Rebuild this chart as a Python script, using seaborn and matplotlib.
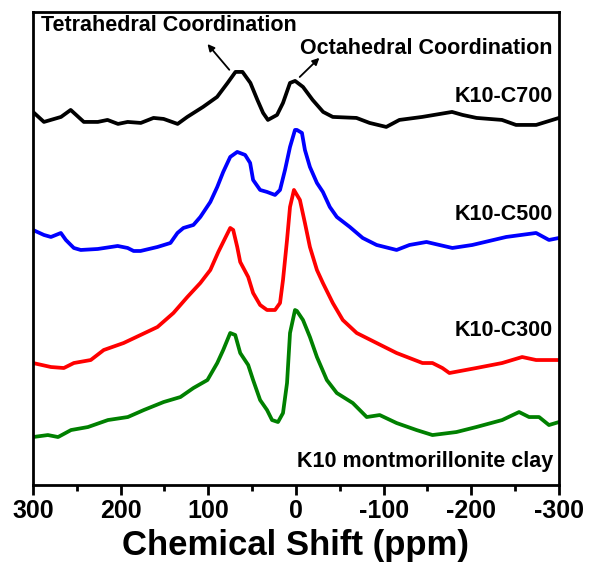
import numpy as np
import pandas as pd
import matplotlib
matplotlib.use("Agg")
import matplotlib.pyplot as plt
import seaborn as sns
from matplotlib.ticker import MultipleLocator

# ---- data (intensity in arbitrary units) ----
ppm_c700 = [300, 287.5, 268, 257, 242, 226, 215, 203, 192, 177, 162.5, 151, 135, 124, 106, 90, 78,
            69, 61, 52, 44, 37.5, 32, 21.6, 14.8, 6.8, 1, -8, -19, -31, -42, -69, -84, -103, -118,
            -144, -178, -190, -206, -235, -251, -274, -300]
int_c700 = [373, 363, 368, 375, 363, 363, 365, 361, 363, 362, 367, 366, 361, 368, 378, 388, 402,
            413, 413, 402, 385, 372, 365, 370, 382, 402, 404, 398, 385, 373, 368, 367, 362, 358, 365,
            368, 373, 370, 367, 365, 360, 360, 367]

ppm_c500 = [300, 287.5, 279.5, 268.2, 262.5, 253.4, 245.5, 226.1, 203.4, 192, 185.2, 177.3, 158,
            143.2, 135.2, 128.4, 117, 109.1, 97.7, 89.8, 83, 75, 67, 58, 52.3, 48.9, 40.9, 33, 23.9,
            18.2, 12.5, 6.8, 1.1, -1.1, -6.8, -10.2, -15.9, -23.9, -30.7, -38.6, -46.6, -61.4, -76.1,
            -92, -114.8, -129.5, -148.9, -163.6, -178.4, -201.1, -239.8, -273.9, -288.6, -300]
int_c500 = [255, 250, 248, 252, 245, 237, 235, 236, 239, 237, 234, 234, 238, 242, 252, 257, 260,
            268, 283, 298, 313, 328, 333, 330, 322, 305, 295, 293, 290, 295, 315, 338, 355, 355, 352,
            335, 318, 302, 293, 278, 268, 258, 247, 240, 235, 240, 243, 240, 237, 240, 248, 252, 245, 247]

ppm_c300 = [300, 279.5, 264.8, 253.4, 234.1, 219.3, 196.6, 177.3, 158, 139.8, 123.9, 109.1, 97.7,
            88.6, 80.7, 75, 71.6, 67, 63.6, 54.5, 48.9, 40.9, 33, 23.9, 18.2, 14.8, 10.2, 6.8, 2.3,
            -4.5, -10.2, -15.9, -23.9, -30.7, -42, -53.4, -69.3, -92, -114.8, -144.3, -155.7, -167,
            -175, -205.7, -235.2, -258, -273.9, -300]
int_c300 = [122, 118, 117, 122, 125, 135, 142, 150, 158, 172, 188, 202, 215, 233, 247, 257, 255,
            238, 223, 208, 192, 180, 175, 175, 182, 205, 245, 278, 295, 285, 262, 238, 215, 202, 182,
            165, 152, 142, 132, 122, 122, 117, 112, 117, 122, 128, 125, 125]

ppm_clay = [300, 283, 271.4, 256.6, 237.3, 214.5, 191.8, 173.6, 151, 131.8, 117, 101, 89.8, 83, 75,
            69.3, 63.6, 54.5, 48.9, 40.9, 33, 27.3, 20.5, 14.8, 10.2, 6.8, 1.1, -1.1, -8, -15.9,
            -23.9, -35.2, -46.6, -64.8, -80.7, -95.5, -114.8, -137.5, -155.7, -183, -205.7, -235.2,
            -254.5, -265.9, -277.3, -288.6, -300]
int_clay = [48, 50, 48, 55, 58, 65, 68, 75, 83, 88, 97, 105, 122, 135, 152, 150, 132, 120, 105, 85,
            75, 65, 63, 72, 102, 152, 175, 174, 165, 148, 128, 105, 92, 82, 68, 70, 62, 55, 50, 53,
            58, 65, 73, 68, 68, 60, 63]

series_names = ["K10-C700", "K10-C500", "K10-C300", "K10 montmorillonite clay"]
series_colors = ["#000000", "#0000FF", "#FF0000", "#008000"]
label_y = [388, 270, 155, 24]

xticks = [300, 200, 100, 0, -100, -200, -300]

frames = []
for name, xs, ys in zip(series_names,
                        [ppm_c700, ppm_c500, ppm_c300, ppm_clay],
                        [int_c700, int_c500, int_c300, int_clay]):
    frames.append(pd.DataFrame({"ppm": xs, "intensity": ys, "sample": name}))
df = pd.concat(frames, ignore_index=True)

sns.set_theme(style="white")
plt.rcParams["font.family"] = ["Liberation Sans", "DejaVu Sans"]
plt.rcParams["font.weight"] = "bold"
plt.rcParams["text.color"] = "black"
plt.rcParams["axes.labelcolor"] = "black"
plt.rcParams["xtick.color"] = "black"
plt.rcParams["ytick.color"] = "black"

fig = plt.figure(figsize=(5.89, 5.66), dpi=100)
ax = fig.add_axes([0.056, 0.143, 0.893, 0.836])

sns.lineplot(data=df, x="ppm", y="intensity", hue="sample", hue_order=series_names,
             palette=series_colors, estimator=None, sort=False, linewidth=2.7,
             legend=False, ax=ax)

ax.set_xlim(300, -300)
ax.set_ylim(0, 473)
ax.set_xticks(xticks)
ax.set_xticklabels([str(t) for t in xticks], fontsize=18, fontweight="bold", color="black")
ax.xaxis.set_minor_locator(MultipleLocator(50))
ax.set_yticks([])
ax.set_ylabel("")
ax.set_xlabel("Chemical Shift (ppm)", fontsize=25, fontweight="bold", labelpad=4, color="black")
ax.tick_params(axis="x", which="major", direction="out", length=7, width=2, pad=3,
               bottom=True, colors="black")
ax.tick_params(axis="x", which="minor", direction="out", length=4, width=2, bottom=True,
               colors="black")
for s in ax.spines.values():
    s.set_linewidth(2)
    s.set_color("black")

for name, yy in zip(series_names, label_y):
    ax.text(-293, yy, name, ha="right", va="center", fontsize=15.5, fontweight="bold",
            color="black")

ax.text(291, 459, "Tetrahedral Coordination", ha="left", va="center", fontsize=15.5,
        fontweight="bold", color="black")
ax.text(-5, 436, "Octahedral Coordination", ha="left", va="center", fontsize=15.5,
        fontweight="bold", color="black")
ax.annotate("", xy=(103, 443), xytext=(74, 413),
            arrowprops=dict(arrowstyle="-|>", color="black", lw=1.3, mutation_scale=10))
ax.annotate("", xy=(-29, 429), xytext=(-2, 406),
            arrowprops=dict(arrowstyle="-|>", color="black", lw=1.3, mutation_scale=10))

fig.savefig("out.png", dpi=100)
